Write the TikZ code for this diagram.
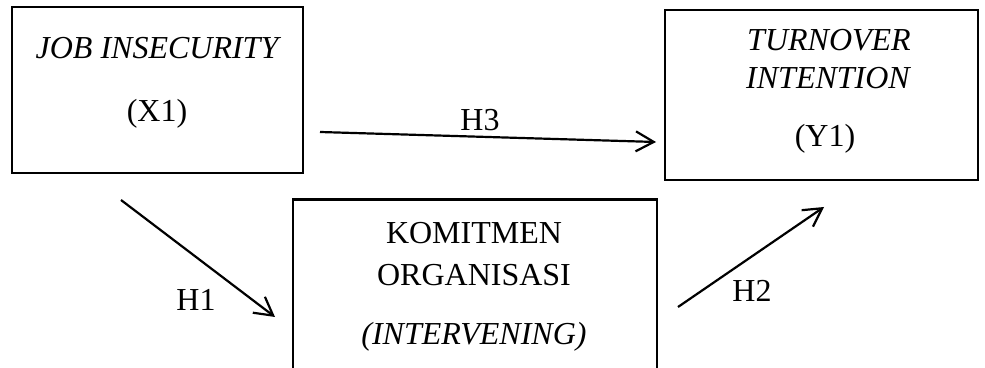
\documentclass[tikz,border=0pt]{standalone}
\usepackage{fontspec}
\setmainfont{Liberation Serif}
\usetikzlibrary{arrows.meta}
\begin{document}
\begin{tikzpicture}[x=0.5pt,y=-0.5pt,
  box/.style={draw, line width=1.2pt, rectangle, inner sep=0pt},
  txt/.style={inner sep=0pt, font=\fontsize{16}{19}\selectfont},
  arr/.style={line width=1.1pt, -{Straight Barb[length=9pt,width=10pt,line width=1.1pt]}},
  lbl/.style={inner sep=0pt, font=\fontsize{16}{19}\selectfont}]
\useasboundingbox (0,0) rectangle (985,368);
\clip (0,0) rectangle (985,368);
% boxes
\node[box, minimum width=145.5pt, minimum height=83pt] (x1) at (157.5,90) {};
\node[box, minimum width=156.5pt, minimum height=85pt] (y1) at (821.5,95) {};
\node[box, minimum width=182pt, minimum height=88pt] (z1) at (475,287.5) {};
% texts
\node[txt] (t1) at (157,48) {\itshape JOB INSECURITY};
\node[txt] (t2) at (157,114) {(X1)};
\node[txt] (t3) at (829,40) {\itshape TURNOVER};
\node[txt] (t4) at (828,78) {\itshape INTENTION};
\node[txt] (t5) at (825,139) {(Y1)};
\node[txt] (t6) at (474,233) {KOMITMEN};
\node[txt] (t7) at (474,275) {ORGANISASI};
\node[txt] (t8) at (474,337) {\itshape (INTERVENING)};
% arrow end points
\coordinate (h3s) at (320,132);
\coordinate (h3e) at (656,142);
\coordinate (h1s) at (121,200);
\coordinate (h1e) at (275,317);
\coordinate (h2s) at (678,307);
\coordinate (h2e) at (824,207);
\draw[arr] (h3s) -- (h3e);
\draw[arr] (h1s) -- (h1e);
\draw[arr] (h2s) -- (h2e);
% labels
\node[lbl] (l3) at (480,120) {H3};
\node[lbl] (l1) at (196,300) {H1};
\node[lbl] (l2) at (752,291) {H2};
\end{tikzpicture}
\end{document}
